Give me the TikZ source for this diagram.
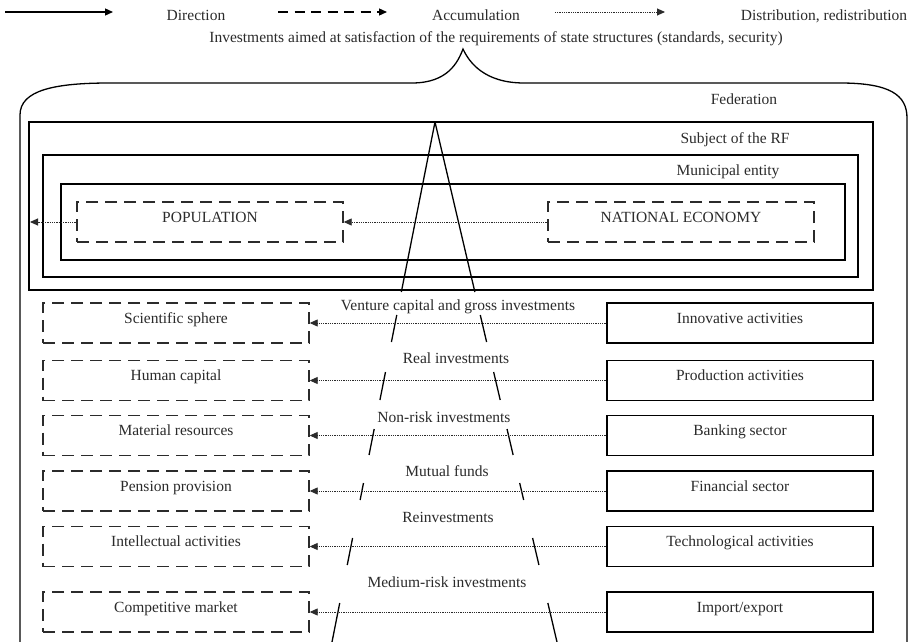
\documentclass[tikz,border=0pt]{standalone}
\usepackage{fontspec}
\setmainfont{Liberation Serif}
\usetikzlibrary{arrows.meta}
\definecolor{ink}{HTML}{2B2B2B}
\tikzset{
  txt/.style={font=\fontsize{15.5pt}{18pt}\selectfont, text=ink, inner sep=0pt},
  lbl/.style={txt, anchor=base},
  thick line/.style={draw=black, line width=1.3pt},
  dashbox/.style={txt, draw=ink, line width=1.4pt, dash pattern=on 12pt off 7pt,
    minimum width=266pt, minimum height=40pt, text height=10pt, text depth=10pt},
  solidbox/.style={txt, draw=black, line width=1.4pt,
    minimum width=266pt, minimum height=40pt, text height=10pt, text depth=10pt},
  tipstyle/.style={-{Triangle[length=8pt,width=7pt]}},
  dotarrow/.style={tipstyle, draw=ink, line width=0.9pt, dash pattern=on 0.9pt off 0.9pt},
  dasharrow/.style={tipstyle, draw=black, line width=1.3pt, dash pattern=on 10pt off 6.5pt},
  solidarrow/.style={tipstyle, draw=black, line width=1.3pt},
}
\begin{document}
\begin{tikzpicture}[x=1pt, y=-1pt]
\useasboundingbox[fill=white] (0,0) rectangle (911,642);

% legend
\coordinate (ls1) at (5,12);   \coordinate (le1) at (113,12);
\coordinate (ls2) at (278,12); \coordinate (le2) at (387,12);
\coordinate (ls3) at (555,12); \coordinate (le3) at (665,12);
\draw[solidarrow] (ls1) -- (le1);
\draw[dasharrow] (ls2) -- (le2);
\draw[dotarrow] (ls3) -- (le3);
\node[lbl] (tdir) at (196,21) {Direction};
\node[lbl] (tacc) at (476,21) {Accumulation};
\node[lbl] (tdis) at (824,21) {Distribution, redistribution};

\node[lbl] (title) at (496,43) {Investments aimed at satisfaction of the requirements of state structures (standards, security)};

% federation outline with the brace on top
\draw[thick line] (20,642) -- (20,115)
  .. controls (20,90) and (55,83) .. (110,83) -- (412,83)
  .. controls (448,83) and (458,62) .. (463,49)
  .. controls (469,62) and (484,83) .. (524,83) -- (840,83)
  .. controls (890,83) and (907,95) .. (907,118) -- (907,642);
\node[lbl] (fed) at (744,105) {Federation};

% nested territorial levels
\draw[thick line] (29,122) rectangle (873,290);
\node[lbl] (subj) at (735,143) {Subject of the RF};
\draw[thick line] (43,155) rectangle (858,277);
\node[lbl] (muni) at (728,175) {Municipal entity};
\draw[thick line] (61,184) rectangle (845,260);

\node[dashbox] (pop) at (210,222) {POPULATION};
\node[dashbox] (ne) at (681,222) {NATIONAL ECONOMY};
\coordinate (popout) at (30,222);
\draw[dotarrow] (ne.west) -- (pop.east);
\draw[dotarrow] (pop.west) -- (popout);

% investment pyramid sides, interrupted by the labels
\coordinate (apex) at (435,122);
\foreach \a/\b in {122/292, 315/342, 372/400, 429/455, 483/500, 538/565, 603/642}{
  \draw[thick line] ({435-103/520*(\a-122)},\a) -- ({435-103/520*(\b-122)},\b);
  \draw[thick line] ({435+122/520*(\a-122)},\a) -- ({435+122/520*(\b-122)},\b);
}

\node[lbl] (i1) at (458,310) {Venture capital and gross investments};
\node[lbl] (i2) at (456,363) {Real investments};
\node[lbl] (i3) at (444,422) {Non-risk investments};
\node[lbl] (i4) at (447,476) {Mutual funds};
\node[lbl] (i5) at (448,522) {Reinvestments};
\node[lbl] (i6) at (447,587) {Medium-risk investments};

% recipients (left) and sources (right)
\node[dashbox] (l1) at (176,323) {Scientific sphere};
\node[dashbox] (l2) at (176,380.5) {Human capital};
\node[dashbox] (l3) at (176,435.5) {Material resources};
\node[dashbox] (l4) at (176,491) {Pension provision};
\node[dashbox] (l5) at (176,546.5) {Intellectual activities};
\node[dashbox] (l6) at (176,612) {Competitive market};

\node[solidbox] (r1) at (740,323) {Innovative activities};
\node[solidbox] (r2) at (740,380.5) {Production activities};
\node[solidbox] (r3) at (740,435.5) {Banking sector};
\node[solidbox] (r4) at (740,491) {Financial sector};
\node[solidbox] (r5) at (740,546.5) {Technological activities};
\node[solidbox] (r6) at (740,612) {Import/export};

\foreach \k in {1,...,6}{
  \draw[dotarrow] (r\k.west) -- (l\k.east);
}
\end{tikzpicture}
\end{document}
